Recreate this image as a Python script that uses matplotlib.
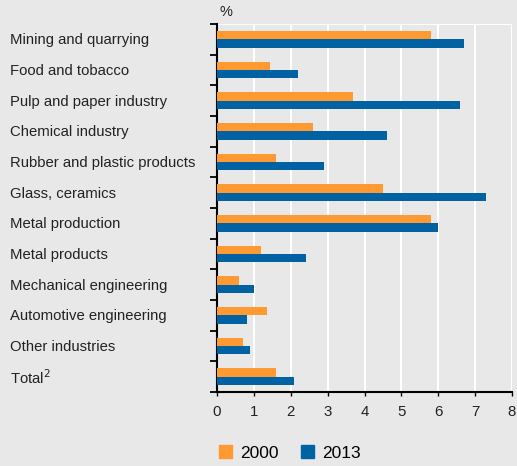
import numpy as np
import matplotlib
matplotlib.use("Agg")
from matplotlib import pyplot as plt
from matplotlib import transforms
from matplotlib.patches import Patch

categories = ["Mining and quarrying", "Food and tobacco", "Pulp and paper industry",
              "Chemical industry", "Rubber and plastic products", "Glass, ceramics",
              "Metal production", "Metal products", "Mechanical engineering",
              "Automotive engineering", "Other industries", "Total$^2$"]
v2000 = [5.8, 1.45, 3.7, 2.6, 1.6, 4.5, 5.8, 1.2, 0.6, 1.35, 0.7, 1.6]
v2013 = [6.7, 2.2, 6.6, 4.6, 2.9, 7.3, 6.0, 2.4, 1.0, 0.8, 0.9, 2.1]
xticks = [0, 1, 2, 3, 4, 5, 6, 7, 8]

bg = "#e8e8e8"
c_or = "#ff9a33"
c_bl = "#0061a3"

plt.rcParams['font.family'] = ['Liberation Sans', 'DejaVu Sans']

fig = plt.figure(figsize=(5.17, 4.66), dpi=100, facecolor=bg)
ax = fig.add_axes([217/517, 1-392/466, (512-217)/517, (392-24)/466])
ax.set_facecolor(bg)

n = len(categories)
y = np.arange(n)
h = 0.27
ax.barh(y - h/2, v2000, height=h, color=c_or, zorder=3)
ax.barh(y + h/2, v2013, height=h, color=c_bl, zorder=3)

ax.set_xlim(0, 8)
ax.set_ylim(n - 0.5, -0.5)
ax.set_xticks(xticks)
ax.set_xticklabels([str(t) for t in xticks], fontsize=10.8, color="#222222")
ax.grid(axis='x', color='white', linewidth=1.5, zorder=1)

ax.set_yticks(np.arange(n + 1) - 0.5)
ax.set_yticklabels([])
ax.tick_params(axis='y', length=5, width=1.3, color='black', direction='out')
ax.tick_params(axis='x', length=3, width=1.0, color='black', direction='out', pad=6)

for s in ['top', 'right']:
    ax.spines[s].set_visible(False)
ax.spines['left'].set_linewidth(1.5)
ax.spines['bottom'].set_linewidth(1.5)
ax.axhline(-0.5, color='white', linewidth=1.5, zorder=1)

tr = transforms.blended_transform_factory(fig.transFigure, ax.transData)
for i, lab in enumerate(categories):
    ax.text(10/517, i + 0.03, lab, transform=tr, ha='left', va='center', fontsize=10.7, color='#222222')

fig.text(219/517, 1-12/466, "%", fontsize=10.5, ha='left', va='center', color='#222222')

handles = [Patch(color=c_or, label="2000"), Patch(color=c_bl, label="2013")]
fig.legend(handles=handles, loc='center', bbox_to_anchor=(290/517, 1-453/466), ncol=2,
           frameon=False, fontsize=12.5, handlelength=0.75, handleheight=0.75,
           handletextpad=0.45, columnspacing=1.3)

fig.savefig("out.png", dpi=100, facecolor=bg)
